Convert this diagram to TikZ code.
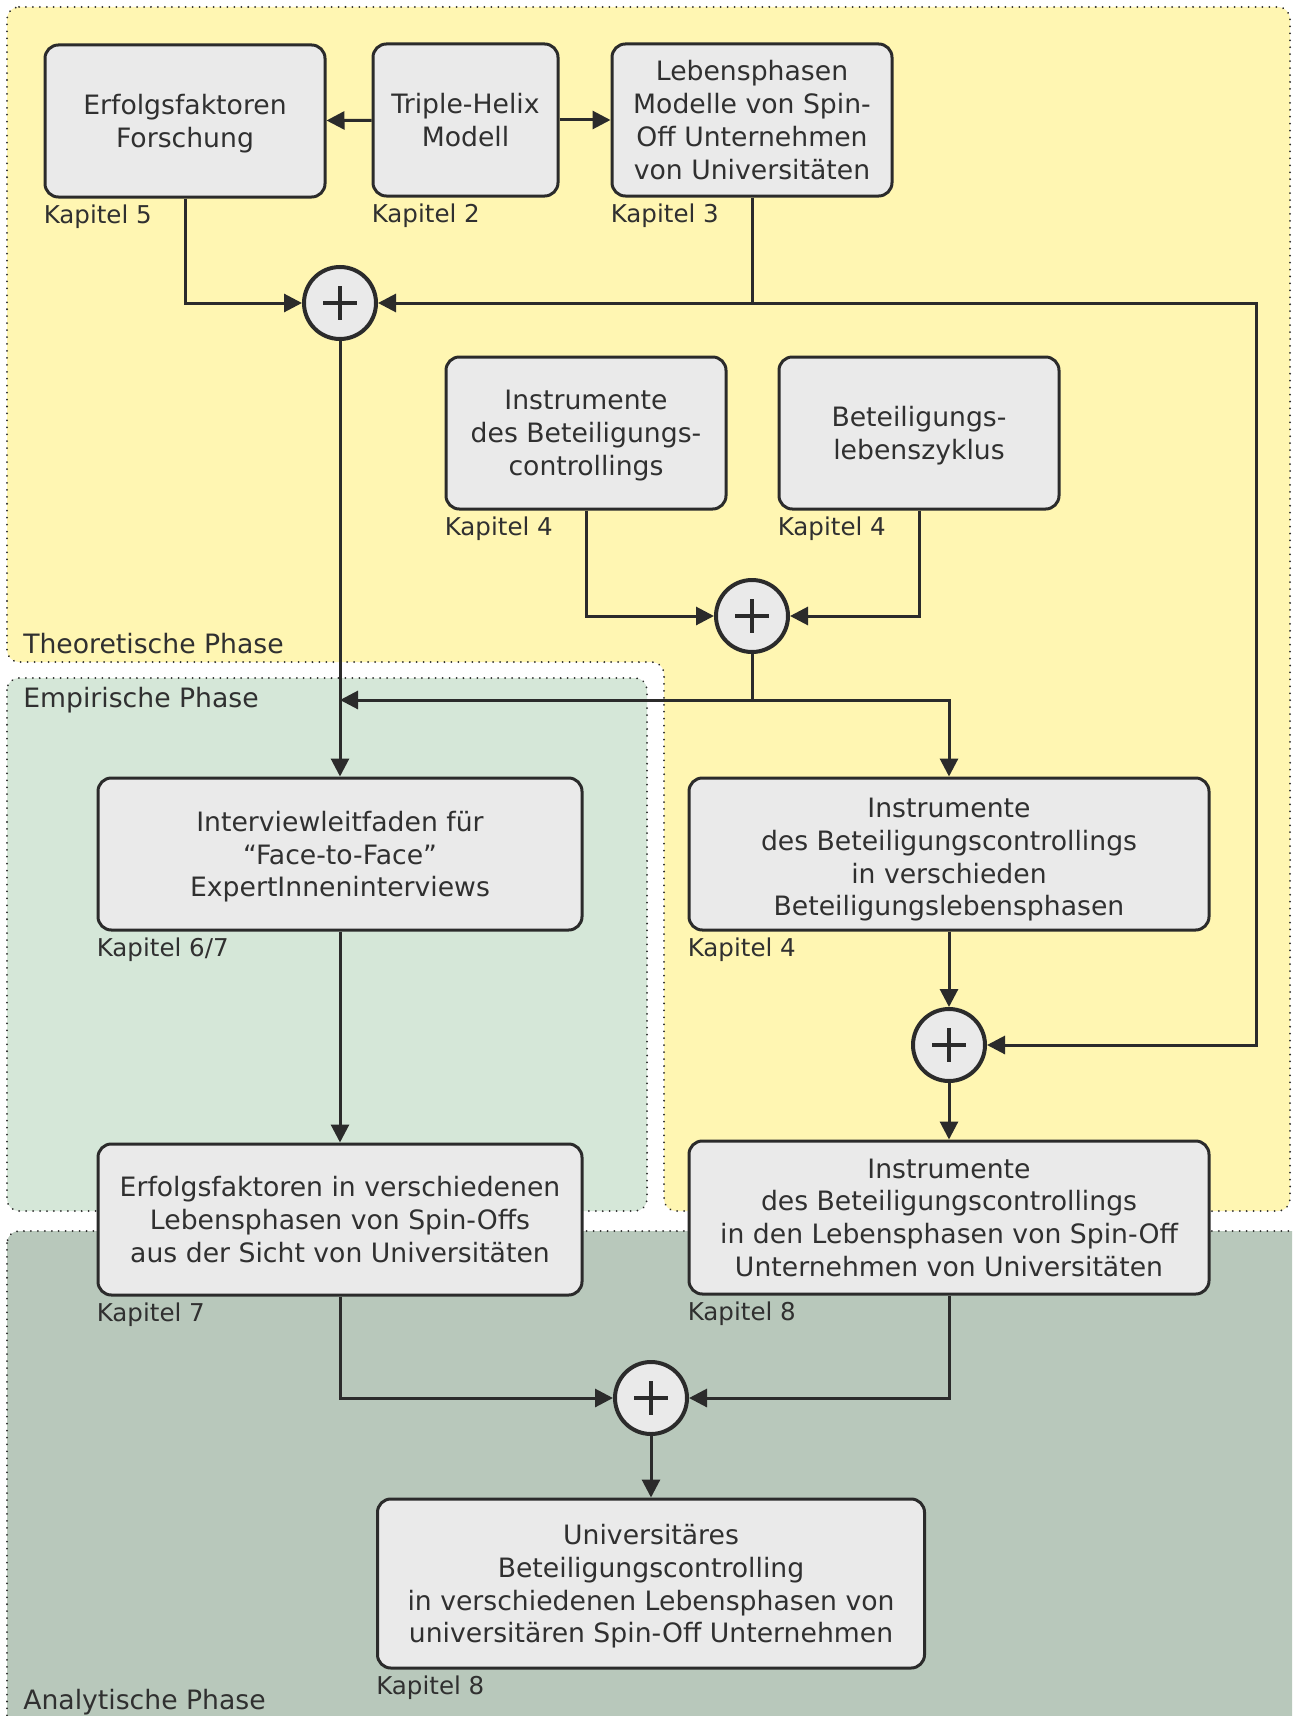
\documentclass[tikz,border=0pt]{standalone}
\usepackage{fontspec}
\setmainfont{DejaVu Sans}
\usetikzlibrary{arrows.meta,calc}

\definecolor{linec}{HTML}{2B2B2B}
\definecolor{textc}{HTML}{303030}
\definecolor{boxfill}{HTML}{EAEAEA}
\definecolor{yellowbg}{HTML}{FFF6B2}
\definecolor{greenbg}{HTML}{D5E7D8}
\definecolor{analyticbg}{HTML}{B8C8BB}

\begin{document}
\begin{tikzpicture}[x=0.75pt,y=-0.75pt,
  box/.style={draw=linec, fill=boxfill, line width=2.25pt, rounded corners=10pt,
    align=center, text=textc, inner sep=0pt, text depth=0pt,
    font=\fontsize{20pt}{24.6pt}\selectfont},
  widebox/.style={box, minimum width=210pt, minimum height=114pt},
  sumnode/.style={circle, draw=linec, fill=boxfill, line width=3pt,
    minimum size=54pt, inner sep=0pt,
    path picture={\draw[linec, line width=2.4pt]
      ([xshift=-12.5pt]path picture bounding box.center) -- ([xshift=12.5pt]path picture bounding box.center)
      ([yshift=-12.5pt]path picture bounding box.center) -- ([yshift=12.5pt]path picture bounding box.center);}},
  kaplabel/.style={text=textc, inner sep=0pt, anchor=base west,
    font=\fontsize{18.4pt}{22pt}\selectfont},
  phaselabel/.style={text=textc, inner sep=0pt, anchor=base west,
    font=\fontsize{20pt}{24pt}\selectfont},
  phase/.style={draw=linec, line width=1.5pt, dash pattern=on 0.01pt off 5.2pt,
    line cap=round, rounded corners=9pt},
  conn/.style={draw=linec, line width=2.25pt},
  arr/.style={conn, -{Triangle[length=13.5pt,width=13.5pt]}}
]
\useasboundingbox (0,0) rectangle (1292,1716);
\fill[white] (0,0) rectangle (1292,1716);

% phase areas
\begin{scope}
  \clip (0,0) rectangle (1292,1716);
  \path[phase, fill=yellowbg] (7,7) -- (1290,7) -- (1290,1211) -- (664,1211)
    -- (664,662) -- (7,662) -- cycle;
  \path[phase, fill=greenbg] (7,678) rectangle (647,1211);
  \path[phase, fill=analyticbg] (7,1231) rectangle (1320,1750);
\end{scope}

\node[phaselabel] (pT) at (23,653) {Theoretische Phase};
\node[phaselabel] (pE) at (23,707) {Empirische Phase};
\node[phaselabel] (pA) at (23,1709) {Analytische Phase};

% boxes
\node[widebox] (erf) at (185,121) {Erfolgsfaktoren\\Forschung};
\node[box, minimum width=138.75pt, minimum height=114pt] (tri) at (465.5,120) {Triple-Helix\\Modell};
\node[widebox] (leb) at (752,120) {Lebensphasen\\Modelle von Spin-\\Off Unternehmen\\von Universitäten};
\node[widebox] (ins) at (586,433) {Instrumente\\des Beteiligungs-\\controllings};
\node[widebox] (lzk) at (919,433) {Beteiligungs-\\lebenszyklus};
\node[box, minimum width=363pt, minimum height=114pt] (itv) at (340,854)
  {Interviewleitfaden für\\“Face-to-Face”\\ExpertInneninterviews};
\node[box, minimum width=390pt, minimum height=114pt] (ivp) at (949,854)
  {\rule{0pt}{19pt}Instrumente\\des Beteiligungscontrollings\\in verschieden\\Beteiligungslebensphasen};
\node[box, minimum width=363pt, minimum height=113.25pt] (efl) at (340,1219.5)
  {Erfolgsfaktoren in verschiedenen\\Lebensphasen von Spin-Offs\\aus der Sicht von Universitäten};
\node[box, minimum width=390pt, minimum height=114.75pt] (isu) at (949,1217.5)
  {Instrumente\\des Beteiligungscontrollings\\in den Lebensphasen von Spin-Off\\Unternehmen von Universitäten};
\node[box, minimum width=410.25pt, minimum height=126.75pt] (ubc) at (651,1583.5)
  {Universitäres\\Beteiligungscontrolling\\in verschiedenen Lebensphasen von\\universitären Spin-Off Unternehmen};

% chapter labels
\node[kaplabel] (kerf) at ([yshift=-18.7pt]erf.south west) {Kapitel 5};
\node[kaplabel] (ktri) at ([yshift=-18.7pt]tri.south west) {Kapitel 2};
\node[kaplabel] (kleb) at ([yshift=-18.7pt]leb.south west) {Kapitel 3};
\node[kaplabel] (kins) at ([yshift=-18.7pt]ins.south west) {Kapitel 4};
\node[kaplabel] (klzk) at ([yshift=-18.7pt]lzk.south west) {Kapitel 4};
\node[kaplabel] (kitv) at ([yshift=-18.7pt]itv.south west) {Kapitel 6/7};
\node[kaplabel] (kivp) at ([yshift=-18.7pt]ivp.south west) {Kapitel 4};
\node[kaplabel] (kefl) at ([yshift=-18.7pt]efl.south west) {Kapitel 7};
\node[kaplabel] (kisu) at ([yshift=-18.7pt]isu.south west) {Kapitel 8};
\node[kaplabel] (kubc) at ([yshift=-18.7pt]ubc.south west) {Kapitel 8};

% summing points
\node[sumnode] (cA) at (340,303) {};
\node[sumnode] (cB) at (752,616) {};
\node[sumnode] (cC) at (949,1045) {};
\node[sumnode] (cD) at (651,1398) {};

\coordinate (rt) at (1256,303);
\coordinate (jB) at (752,700);

% connectors
\draw[arr] (tri) -- (erf);
\draw[arr] (tri) -- (leb);
\draw[arr] (erf.south) |- (cA.west);
\draw[arr] (leb.south) |- (cA.east);
\draw[arr] (leb.south) |- (rt) |- (cC.east);
\draw[arr] (ins.south) |- (cB.west);
\draw[arr] (lzk.south) |- (cB.east);
\draw[arr] (cB.south) -- (jB) -- (cA.south |- jB);
\draw[arr] (jB) -| (ivp.north);
\draw[arr] (cA.south) -- (itv.north);
\draw[arr] (itv.south) -- (efl.north);
\draw[arr] (ivp.south) -- (cC.north);
\draw[arr] (cC.south) -- (isu.north);
\draw[arr] (efl.south) |- (cD.west);
\draw[arr] (isu.south) |- (cD.east);
\draw[arr] (cD.south) -- (ubc.north);
\end{tikzpicture}
\end{document}
